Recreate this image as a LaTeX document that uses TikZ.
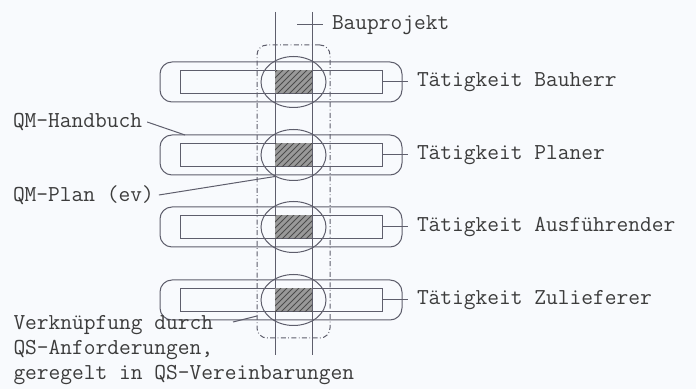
\documentclass[tikz,border=0pt]{standalone}
\usepackage{fontspec}
\usetikzlibrary{positioning,shapes.geometric,patterns}

\definecolor{strich}{HTML}{5E5E6C}
\definecolor{schrift}{HTML}{3C3C3C}
\definecolor{papier}{HTML}{F8FAFD}

\tikzset{
	aussen/.style={draw, rounded corners=6pt, minimum width=121pt, minimum height=20pt, inner sep=0pt},
	innen/.style={draw, minimum width=101pt, minimum height=11.5pt, inner sep=0pt},
	kreis/.style={draw, ellipse, minimum width=32.5pt, minimum height=25.5pt, inner sep=0pt},
	schraffur/.style={fill=black!40, postaction={pattern=north east lines, pattern color=black!70}, minimum width=18.5pt, minimum height=11.5pt, inner sep=0pt},
	rahmen/.style={draw, dash pattern=on 2.5pt off 1.2pt on 0.4pt off 1.2pt, rounded corners=5pt, minimum width=36.5pt, minimum height=146.5pt, inner sep=0pt},
	links/.style={anchor=west, inner sep=0pt, outer sep=2.5pt},
	rechts/.style={anchor=west, inner sep=0pt, outer sep=4.5pt}
}

\begin{document}
\begin{tikzpicture}[x=0.5pt, y=-0.5pt, line width=0.5pt, color=strich, every node/.style={text=schrift, font=\ttfamily\fontsize{11.4}{12.5}\selectfont}]

\useasboundingbox[fill=papier] (0,0) rectangle (696,389);

% Bauprojekt
\node[rahmen] (projekt) at (293.5,191.5) {};
\coordinate (li-oben) at (275,12);
\coordinate (li-unten) at (275,355);
\coordinate (re-oben) at (312,12);
\coordinate (re-unten) at (312,355);
\draw (li-oben) -- (li-unten);
\draw (re-oben) -- (re-unten);
\coordinate (bp-start) at (297,25);
\node[rechts] (bauprojekt) at (323,25) {Bauprojekt};
\draw (bp-start) -- (bauprojekt.west);

% Taetigkeiten
\foreach \y/\name/\text in {82/bauherr/Bauherr, 155/planer/Planer, 227/ausf/Ausführender, 300/zuliefer/Zulieferer}{
	\node[aussen] (\name-a) at (281,\y) {};
	\node[innen] (\name-i) at (281,\y) {};
	\node[kreis] (\name-k) at (293.5,\y) {};
	\node[schraffur] (\name-s) at (293.5,\y) {};
	\node[rechts] (\name-t) at (408,\y) {Tätigkeit \text};
	\draw (\name-i.east) -- (\name-t.west);
}

% Beschriftungen links
\node[links] (qmhb) at (8,122) {QM-Handbuch};
\coordinate (hb-ende) at (185,135);
\draw (qmhb.east) -- (hb-ende);

\node[links] (qmplan) at (8,195) {QM-Plan (ev)};
\coordinate (plan-ende) at (275,176.5);
\draw (qmplan.east) -- (plan-ende);

\node[anchor=north west, align=left, inner sep=0pt] (verkn) at (13,315) {Verknüpfung durch\\QS-Anforderungen,\\geregelt in QS-Vereinbarungen};
\coordinate (vk-start) at (233,322);
\coordinate (vk-ende) at (257,316);
\draw (vk-start) -- (vk-ende);
\end{tikzpicture}
\end{document}
